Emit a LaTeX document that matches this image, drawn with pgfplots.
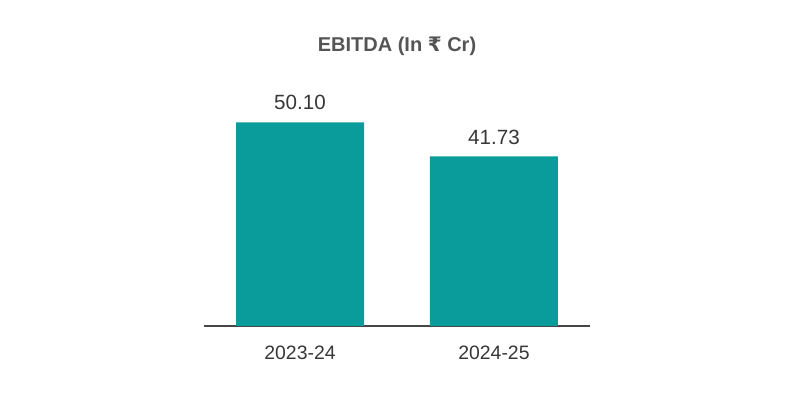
\documentclass[border=0pt]{standalone}
\usepackage{fontspec}
\setmainfont{Liberation Sans}
\newfontfamily\rupeefont{DejaVu Sans}
\usepackage{pgfplots}
\pgfplotsset{compat=1.18}
\definecolor{barteal}{RGB}{10,156,154}
\definecolor{axisgray}{RGB}{70,70,70}
\definecolor{titlegray}{RGB}{85,85,85}
\definecolor{textgray}{RGB}{55,55,55}
\begin{document}
\begin{tikzpicture}
% canvas: 800x400 px at 0.5pt per px
\path[use as bounding box] (0,0) rectangle (400pt,200pt);
\begin{axis}[
    at={(102pt,37pt)}, anchor=south west,
    scale only axis,
    width=193pt, height=122pt,
    xmin=-0.495, xmax=1.495,
    ymin=0, ymax=60,
    ybar, bar width=0.66,
    axis x line=bottom,
    axis y line=none,
    x axis line style={-, draw=axisgray, line width=0.75pt},
    xtick=data,
    xticklabels={2023-24,2024-25},
    major tick length=0pt,
    xticklabel style={font=\fontsize{9.7pt}{11pt}\selectfont, text=textgray, yshift=-6.5pt},
    nodes near coords,
    nodes near coords style={font=\fontsize{10.3pt}{12pt}\selectfont, text=textgray, yshift=2.5pt},
    point meta=explicit symbolic,
    clip=false,
]
\addplot[fill=barteal, draw=none] coordinates {(0,50.10) [50.10] (1,41.73) [41.73]};
\end{axis}
\node[font=\bfseries\fontsize{10pt}{12pt}\selectfont, text=titlegray] at (198.5pt,177pt)
    {EBITDA (In {\rupeefont\bfseries ₹} Cr)};
\end{tikzpicture}
\end{document}
